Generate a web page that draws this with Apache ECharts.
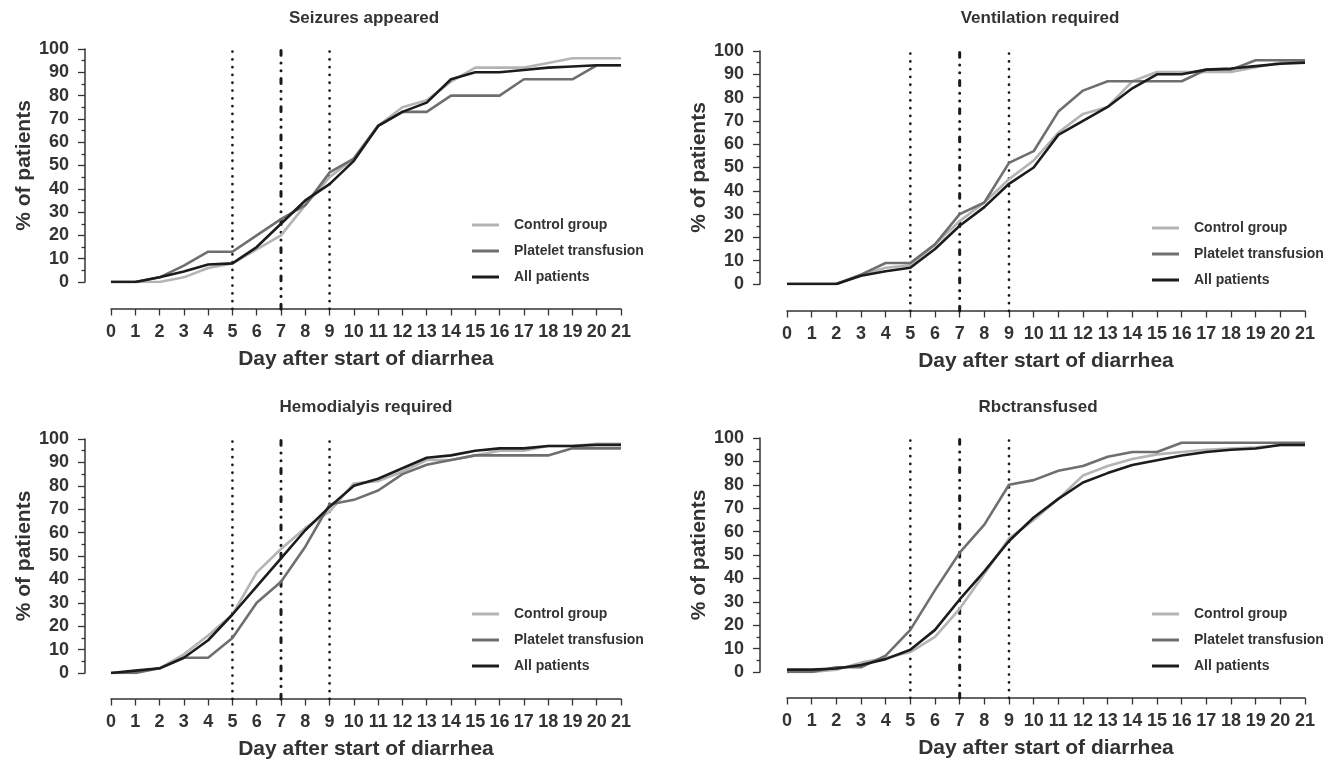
<!DOCTYPE html>
<html>
<head>
<meta charset="utf-8">
<script src="https://cdn.jsdelivr.net/npm/echarts@6/dist/echarts.min.js"></script>
<style>
html,body{margin:0;padding:0;background:#fff;}
#chart{width:1338px;height:764px;}
</style>
</head>
<body>
<div id="chart"></div>
<script>
// ---- data ----
const days = [0,1,2,3,4,5,6,7,8,9,10,11,12,13,14,15,16,17,18,19,20,21];
const refDays = [5, 7, 9];
const seriesNames = ['Control group', 'Platelet transfusion', 'All patients'];
const panelTitles = ['Seizures appeared', 'Ventilation required', 'Hemodialyis required', 'Rbctransfused'];

const seizuresControl  = [0,0,0,2,6,8,14,20,33,45,53,67,75,78,86,92,92,92,94,96,96,96];
const seizuresPlatelet = [0,0,2,7,13,13,20,27,33,47,53,67,73,73,80,80,80,87,87,87,93,93];
const seizuresAll      = [0,0,2,4.5,7.5,8,15,25,35,42,52,67,73,77,87,90,90,91,92,92.5,93,93];

const ventControl  = [0,0,0,4,7,8,17,27,35,45,53,65,73,76,87,91,91,91,91,93,95,96];
const ventPlatelet = [0,0,0,4,9,9,17,30,35,52,57,74,83,87,87,87,87,92,92,96,96,96];
const ventAll      = [0,0,0,3.5,5.5,7,15,25,33,43,50,64,70,76,84,90,90,92,92.5,93.5,94.5,95];

const hemoControl  = [0,0.5,2,8,16,25,43,53,62,69,81,82,86,91,91,93,95,95,97,97,98,98];
const hemoPlatelet = [0,0,2,6.5,6.5,15,30,39,54,72,74,78,85,89,91,93,93,93,93,96,96,96];
const hemoAll      = [0,1,2,6.5,14,25,37,49,61,71,80,83,87.5,92,93,95,96,96,97,97,97.5,97.5];

const rbcControl  = [0,0,1,4,6,8.5,15,27,42,57,65,74,84,88,91,93,94,95,95.5,96,97,97];
const rbcPlatelet = [0,0,2,2,7,18,35,51,63,80,82,86,88,92,94,94,98,98,98,98,98,98];
const rbcAll      = [1,1,1.5,3,5.5,9.5,18,31,43,56,66,74,81,85,88.5,90.5,92.5,94,95,95.5,97,97];

const panelData = [
  [seizuresControl, seizuresPlatelet, seizuresAll],
  [ventControl, ventPlatelet, ventAll],
  [hemoControl, hemoPlatelet, hemoAll],
  [rbcControl, rbcPlatelet, rbcAll]
];

// ---- layout / style ----
const FONT = "'Liberation Sans', Arial, sans-serif";
const TXT = '#333333';
const lineColors = ['#b4b4b4', '#6f6f6f', '#1c1c1c'];
const panels = [
  {left:111, top:49,  width:510, height:233, yOff:26, xOff:27, titleX:364,  titleY:10,  legL:472,  legT:218},
  {left:787, top:51,  width:518, height:233, yOff:27, xOff:27, titleX:1040, titleY:10,  legL:1152, legT:221},
  {left:111, top:439, width:510, height:234, yOff:26, xOff:26, titleX:366,  titleY:399, legL:472,  legT:607},
  {left:787, top:438, width:518, height:234, yOff:27, xOff:26, titleX:1038, titleY:399, legL:1152, legT:607}
];
const refStyles = {
  5: {type:[0.1, 7.7], width:2.7, cap:'round', color:'#1a1a1a'},
  7: {type:[4.8, 7.8, 0.1, 7.6, 0.1, 7.8], width:3, cap:'round', color:'#1a1a1a'},
  9: {type:[0.1, 7.7], width:2.7, cap:'round', color:'#1a1a1a'}
};
const legendIcon = 'path://M0,0 L27,0 L27,3 L0,3 Z';

const option = {
  animation: false,
  backgroundColor: '#ffffff',
  title: [], legend: [], grid: [], xAxis: [], yAxis: [], series: []
};

panels.forEach((p, i) => {
  option.title.push({
    text: panelTitles[i], left: p.titleX, top: p.titleY, textAlign: 'center', padding: 0,
    textStyle: {fontFamily: FONT, fontWeight: 'bold', fontSize: 17, color: TXT}
  });
  option.grid.push({left: p.left, top: p.top, width: p.width, height: p.height, containLabel: false});
  option.xAxis.push({
    type: 'value', gridIndex: i, min: 0, max: 21, interval: 1, offset: p.xOff,
    name: 'Day after start of diarrhea', nameLocation: 'middle', nameGap: 40,
    nameTextStyle: {fontFamily: FONT, fontWeight: 'bold', fontSize: 21, color: TXT},
    axisLine: {show: true, onZero: false, lineStyle: {color: '#333', width: 1.5}},
    axisTick: {show: true, length: 6.5, lineStyle: {color: '#333', width: 1.3}},
    axisLabel: {margin: 14, fontFamily: FONT, fontWeight: 'bold', fontSize: 18, color: TXT,
                formatter: v => String(days[v])},
    splitLine: {show: false}
  });
  option.yAxis.push({
    type: 'value', gridIndex: i, min: 0, max: 100, interval: 10, offset: p.yOff,
    name: '% of patients', nameLocation: 'middle', nameGap: 50, nameRotate: 90,
    nameTextStyle: {fontFamily: FONT, fontWeight: 'bold', fontSize: 21, color: TXT},
    axisLine: {show: true, onZero: false, lineStyle: {color: '#333', width: 1.5}},
    axisTick: {show: true, length: 7, lineStyle: {color: '#333', width: 1.3}},
    minorTick: {show: true, splitNumber: 2, length: 3.5, lineStyle: {color: '#333', width: 1.3}},
    axisLabel: {margin: 16, fontFamily: FONT, fontWeight: 'bold', fontSize: 18, color: TXT},
    splitLine: {show: false}
  });
  option.legend.push({
    data: seriesNames.map(n => ({name: n, icon: legendIcon})),
    orient: 'vertical', left: p.legL, top: p.legT, padding: 0,
    itemWidth: 27, itemHeight: 14, itemGap: 12, selectedMode: false,
    textStyle: {fontFamily: FONT, fontWeight: 'bold', fontSize: 14, color: TXT, padding: [0,0,0,10]}
  });
  // vertical reference lines, extended down to the offset x-axis
  const bottomVal = -(p.xOff / p.height) * 100;
  refDays.forEach(d => {
    option.series.push({
      type: 'line', name: 'ref' + i + '_' + d, xAxisIndex: i, yAxisIndex: i,
      data: [[d, bottomVal], [d, 100]], symbol: 'none', clip: false, silent: true,
      lineStyle: refStyles[d], z: 1
    });
  });
  panelData[i].forEach((arr, k) => {
    option.series.push({
      type: 'line', name: seriesNames[k], xAxisIndex: i, yAxisIndex: i,
      data: days.map((d, j) => [d, arr[j]]),
      symbol: 'none', showSymbol: false, smooth: false,
      lineStyle: {color: lineColors[k], width: 2.6},
      itemStyle: {color: lineColors[k]},
      z: 3 + k
    });
  });
});

const chart = echarts.init(document.getElementById('chart'), null, {renderer: 'canvas'});
chart.setOption(option);
</script>
</body>
</html>
